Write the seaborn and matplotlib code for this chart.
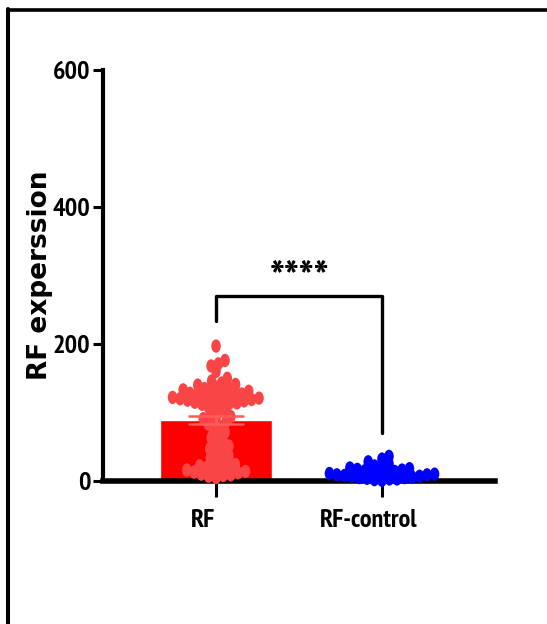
import numpy as np
import pandas as pd
import seaborn as sns
import matplotlib
matplotlib.use("Agg")
import matplotlib.pyplot as plt
from matplotlib.markers import MarkerStyle
from matplotlib.transforms import Affine2D, ScaledTranslation
from matplotlib.lines import Line2D
from matplotlib import font_manager as fm

# ---------------- data ----------------
categories = ["RF", "RF-control"]
rf_values = [197, 176, 171, 168, 160, 150, 146, 143, 141,
             140, 138, 137, 135, 133, 132, 131, 129, 128, 127, 126, 125, 124,
             124, 123, 122, 121, 120, 119, 118, 118, 117, 116, 115, 114, 113,
             112, 110, 107, 104,
             100, 97, 94, 91, 89, 86, 83, 79, 75, 71, 67, 63,
             59, 55, 51, 47, 44, 41, 37, 34,
             30, 27, 24, 22, 21, 20, 18, 16, 15, 14, 13, 12, 10, 9, 8, 7, 5]
control_values = [36, 32, 28, 25, 22, 21, 19, 18, 17, 16, 15, 14, 13, 12, 11,
                  11, 10, 9, 9, 8, 7, 7, 6, 5, 5, 4, 3, 3, 2, 1]
y_ticks = [0, 200, 400, 600]
y_label = "RF experssion"
sig_label = "****"
bracket_y = 270
bracket_left_end = 233
bracket_right_end = 70

bar_colors = ["#FF0000", "#0000FF"]
point_colors = ["#FA4547", "#0000FF"]
err_colors = ["#FF5A5A", "#0000FF"]

df = pd.DataFrame({
    "group": [categories[0]] * len(rf_values) + [categories[1]] * len(control_values),
    "value": rf_values + control_values,
})

# ---------------- style ----------------
sns.set_style("ticks")
plt.rcParams.update({
    "text.color": "black", "axes.labelcolor": "black",
    "xtick.color": "black", "ytick.color": "black",
    "axes.edgecolor": "black",
})

WEIGHTS = {"bold": 700, "heavy": 800, "black": 900, "demibold": 600,
           "semibold": 600, "extra bold": 800, "normal": 400, "regular": 400}


def condensed_bold_font():
    best, best_score = None, -1
    for f in fm.fontManager.ttflist:
        nm = (f.name + " " + f.fname).lower()
        if "italic" in nm or "oblique" in nm or "mono" in nm or "cjk" in nm:
            continue
        st = str(f.stretch).lower()
        w = f.weight if isinstance(f.weight, int) else WEIGHTS.get(str(f.weight).lower(), 400)
        if not (600 <= w <= 800):
            continue
        score = -1
        if "narrow" in nm:
            score = 10
        elif st == "condensed" or ("condensed" in nm and "semi" not in nm and "extra" not in nm and "ultra" not in nm):
            score = 8
        elif "semi" in st or "semicondensed" in nm or "semi-condensed" in nm:
            score = 5
        elif "extra" in st or "extracondensed" in nm:
            score = 4
        if score > best_score:
            best, best_score = f.fname, score
    return best


cond_path = condensed_bold_font()


def tick_font(size):
    if cond_path:
        return fm.FontProperties(fname=cond_path, size=size)
    return fm.FontProperties(family="Liberation Sans", weight="bold", size=size * 0.8)


W, H, DPI = 547, 624, 100
fig = plt.figure(figsize=(W / DPI, H / DPI), dpi=DPI)
ax = fig.add_axes([103 / W, 1 - 481 / H, (495 - 103) / W, (481 - 70) / H])

sns.barplot(data=df, x="group", y="value", hue="group", order=categories,
            hue_order=categories, palette=bar_colors, errorbar="se",
            capsize=0.33, width=0.67, saturation=1, legend=False,
            err_kws={"linewidth": 1.8, "zorder": 4}, ax=ax)
for line, c in zip(ax.lines, err_colors):
    line.set_color(c)

mk = MarkerStyle("o", transform=Affine2D().scale(1.32, 1.85))
sns.swarmplot(data=df, x="group", y="value", hue="group", order=categories,
              hue_order=categories, palette=point_colors, size=5.2, marker=mk,
              linewidth=0, legend=False, ax=ax)
for coll in ax.collections:
    coll.set_clip_on(False)

# significance bracket
ax.plot([0, 0, 1, 1], [bracket_left_end, bracket_y, bracket_y, bracket_right_end],
        color="black", lw=2.4, clip_on=False, zorder=5)
ax.text(0.5, bracket_y + 4, sig_label, ha="center", va="baseline",
        fontproperties=tick_font(33))

# axes
ax.set_ylim(0, 600)
ax.set_xlim(-0.681, 1.681)
ax.set_yticks(y_ticks)
ax.set_xlabel("")
ax.set_ylabel(y_label, fontsize=19, fontweight="bold", family="DejaVu Sans")
ax.yaxis.set_label_coords(-0.127, 0.5)
sns.despine(ax=ax)
ax.spines["left"].set_linewidth(3)
ax.spines["bottom"].set_linewidth(4)
ax.tick_params(axis="y", length=7, width=2.2, pad=2)
ax.tick_params(axis="x", length=11.5, width=2.2, pad=9)
for lbl in ax.get_yticklabels():
    lbl.set_fontproperties(tick_font(19))
shift = ScaledTranslation(-13 / DPI, 0, fig.dpi_scale_trans)
for lbl in ax.get_xticklabels():
    lbl.set_fontproperties(tick_font(19))
    lbl.set_transform(lbl.get_transform() + shift)

# outer frame (top and left edges)
fig.add_artist(Line2D([8 / W, 1], [1 - 10 / H, 1 - 10 / H], transform=fig.transFigure,
                      color="black", lw=2.6))
fig.add_artist(Line2D([8 / W, 8 / W], [0, 1 - 8.5 / H], transform=fig.transFigure,
                      color="black", lw=2.9))

fig.savefig("out.png", dpi=DPI, facecolor="white")
